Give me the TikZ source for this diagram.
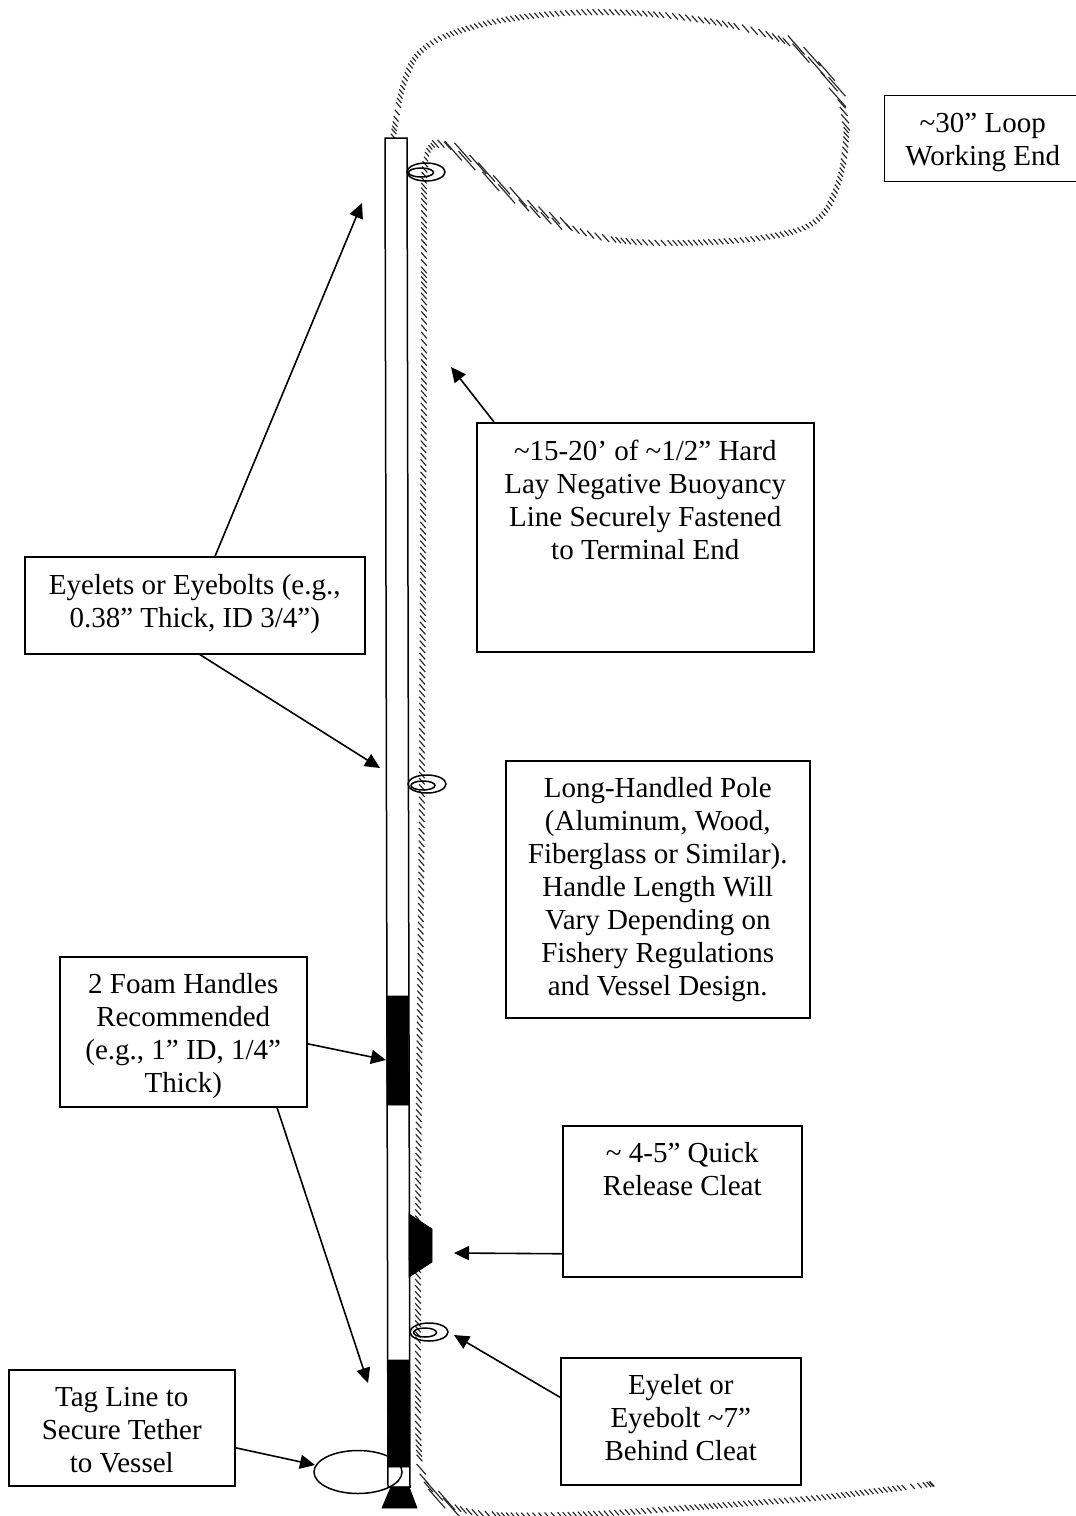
\documentclass[tikz,border=0pt]{standalone}
\usepackage{fontspec}
\setmainfont{Liberation Serif}
\usetikzlibrary{arrows.meta}
\newcommand{\tld}{\textasciitilde}
\tikzset{
  lblb/.style={draw=black, line width=1.5pt, fill=white, anchor=north west, inner sep=0pt,
               align=center, font=\fontsize{29}{33}\selectfont},
  ar/.style={-{Triangle[length=15pt,width=14pt]}, line width=1.6pt, draw=black},
  eye/.style={draw=black, line width=1.5pt},
  blackp/.style={fill=black, draw=black, line width=0.8pt},
  ropet/.style={line width=1.15pt, draw=black!85},
}
\begin{document}
\begin{tikzpicture}[x=1pt,y=-1pt]
  \useasboundingbox (0,0) rectangle (1076,1516);

  % --- rope: slanted hatch ticks along a quadratic spline ---
  \def\px{393}\def\py{138}\def\lx{393}\def\ly{138}
  \foreach \cx/\cy in {395/125,402/85,419/47,470/26,537/14,620/11,703/19,770/34,
      803/50,833/80,845/112,847/140,840/183,820/224,770/238,703/243,637/243,590/236,548/218,
      503/190,467/157,443/142,428/146,424/172,424/200,424/240,424/300,424/400,423/500,
      423/600,422/700,422/800,421/900,420/1000,419/1100,418/1200,418/1300,418/1380,418/1440,
      421/1476,436/1498,470/1514,520/1516,600/1514,687/1508,753/1503,820/1498,876/1491,932/1484,932/1484}{
    \pgfmathsetmacro\mx{(\px+\cx)/2}
    \pgfmathsetmacro\my{(\py+\cy)/2}
    \pgfmathsetmacro\chord{veclen(\mx-\lx,\my-\ly)}
    \pgfmathsetmacro\cross{abs((\mx-\lx)*0.75-(\my-\ly)*0.66)}
    \pgfmathsetmacro\slant{max(\cross/\chord,0.22)}
    \pgfmathsetmacro\hl{2.8/\slant}
    \pgfmathsetmacro\off{\slant<0.4 ? 2.1 : 0}
    \pgfmathsetmacro\gap{\slant<0.4 ? 0.8 : 1.5}
    \pgfmathtruncatemacro\nt{max(1,ceil(\chord/(\gap*\hl)))}
    \foreach \k in {1,...,\nt}{
      \pgfmathsetmacro\tk{\k/\nt}
      \pgfmathsetmacro\sg{\off*(2*mod(\k,2)-1)}
      \pgfmathsetmacro\ax{(1-\tk)*(1-\tk)*\lx+2*\tk*(1-\tk)*\px+\tk*\tk*\mx+0.75*\sg}
      \pgfmathsetmacro\ay{(1-\tk)*(1-\tk)*\ly+2*\tk*(1-\tk)*\py+\tk*\tk*\my-0.66*\sg}
      \draw[ropet] (\ax-0.66*\hl,\ay-0.75*\hl) -- (\ax+0.66*\hl,\ay+0.75*\hl);
    }
    \global\let\lx\mx \global\let\ly\my
    \global\let\px\cx \global\let\py\cy
  }

  % --- pole ---
  \path[draw=black, line width=1.5pt, fill=white] (385,138) -- (407,138) -- (410,1487) -- (388,1487) -- cycle;
  \path[blackp] (386.5,996) -- (408,996) -- (408.5,1105) -- (387,1105) -- cycle;
  \path[blackp] (388,1360) -- (409,1360) -- (409.5,1467) -- (388.5,1467) -- cycle;
  \path[blackp] (409,1214) -- (432,1229) -- (432,1262) -- (409,1277) -- cycle;
  \path[blackp] (391,1487) -- (409,1487) -- (417,1508) -- (382,1508) -- cycle;

  % --- eyelets, tag loop ---
  \draw[eye] (426,172) ellipse (19 and 9);
  \draw[eye] (421,172.5) ellipse (12.5 and 4.5);
  \draw[eye] (427,784) ellipse (19 and 9);
  \draw[eye] (423,785.5) ellipse (12 and 4.5);
  \draw[eye] (429,1332) ellipse (19 and 9);
  \draw[eye] (425,1332.5) ellipse (11.5 and 4.5);
  \draw[eye] (358,1472) ellipse (44 and 21.5);

  % --- labels ---
  \node[lblb, minimum width=197pt, minimum height=86pt] (loopl) at (883.5,94.5)
       {\tld30” Loop\\Working End\\[-35pt]\mbox{}};
  \node[lblb, minimum width=337pt, minimum height=229pt] (linel) at (476,422)
       {\tld15-20’ of \tld1/2” Hard\\Lay Negative Buoyancy\\Line Securely Fastened\\to Terminal End\\[42pt]\mbox{}};
  \node[lblb, minimum width=340pt, minimum height=97pt] (eyesl) at (24,556)
       {Eyelets or Eyebolts (e.g.,\\0.38” Thick, ID 3/4”)\\[-25pt]\mbox{}};
  \node[lblb, minimum width=304pt, minimum height=257pt] (polel) at (505,760)
       {Long-Handled Pole\\(Aluminum, Wood,\\Fiberglass or Similar).\\Handle Length Will\\Vary Depending on\\Fishery Regulations\\and Vessel Design.};
  \node[lblb, minimum width=247pt, minimum height=150pt] (foaml) at (59,956)
       {2 Foam Handles\\Recommended\\(e.g., 1” ID, 1/4”\\Thick)\\[-35pt]\mbox{}};
  \node[lblb, minimum width=239pt, minimum height=151pt] (cleatl) at (562,1125)
       {\tld{} 4-5” Quick\\Release Cleat\\[31pt]\mbox{}};
  \node[lblb, minimum width=240pt, minimum height=127pt] (boltl) at (560,1357)
       {Eyelet or\\Eyebolt \tld7”\\Behind Cleat\\[-25pt]\mbox{}};
  \node[lblb, minimum width=226pt, minimum height=116pt] (tagl) at (8,1369)
       {Tag Line to\\Secure Tether\\to Vessel\\[-37pt]\mbox{}};

  % --- free arrow ends ---
  \coordinate (eyetop) at (362,203);
  \coordinate (eyemid) at (380,768);
  \coordinate (linept) at (451,367);
  \coordinate (foamup) at (386,1060);
  \coordinate (foamlo) at (368,1383);
  \coordinate (cleatp) at (454,1253);
  \coordinate (boltp) at (454,1335);
  \coordinate (tagp) at (315,1465);

  \draw[ar] (eyesl) -- (eyetop);
  \draw[ar] ([xshift=5pt]eyesl.south) -- (eyemid);
  \draw[ar] ([xshift=18pt]linel.north west) -- (linept);
  \draw[ar] ([yshift=-12pt]foaml.east) -- (foamup);
  \draw[ar] ([xshift=218pt]foaml.south west) -- (foamlo);
  \draw[ar] ([yshift=-52.5pt]cleatl.west) -- (cleatp);
  \draw[ar] ([yshift=24pt]boltl.west) -- (boltp);
  \draw[ar] ([yshift=-20pt]tagl.east) -- (tagp);
\end{tikzpicture}
\end{document}
